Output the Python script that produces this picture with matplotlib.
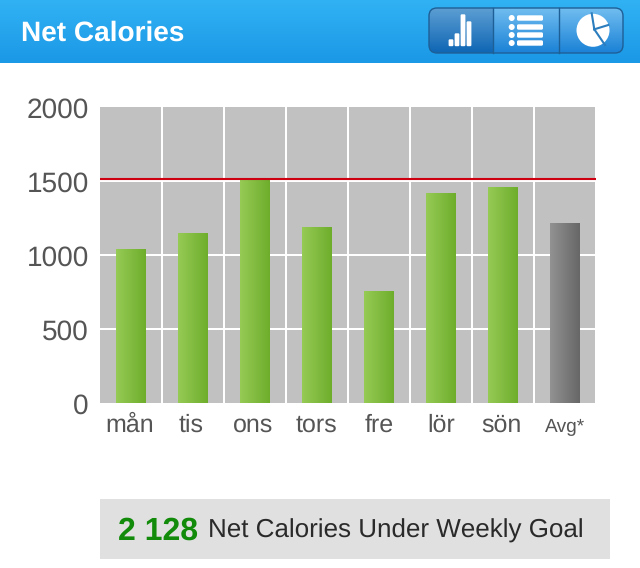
import numpy as np
import matplotlib
matplotlib.use("Agg")
import matplotlib.pyplot as plt
from matplotlib.colors import LinearSegmentedColormap as LSC
from matplotlib.patches import FancyBboxPatch, Rectangle, Circle
from matplotlib.transforms import ScaledTranslation

days = ["mån", "tis", "ons", "tors", "fre", "lör", "sön", "Avg*"]
calories = [1040, 1145, 1507, 1189, 752, 1415, 1459, 1216]
goal = 1513
y_ticks = [0, 500, 1000, 1500, 2000]
title = "Net Calories"
summary_value = "2 128"
summary_text = "Net Calories Under Weekly Goal"
label_shift_px = [-1, -2, -2, -1, 0, 0, -2, 0]

plt.rcParams["font.family"] = ["Liberation Sans", "DejaVu Sans"]
plt.rcParams["text.hinting"] = "none"
plt.rcParams["text.hinting_factor"] = 1
W, H = 640, 568
fig = plt.figure(figsize=(W / 100, H / 100), dpi=100, facecolor="white")


def cmap(a, b):
    return LSC.from_list("g", [a, b])


# ---- chart ----
ax = fig.add_axes([100 / W, 1 - 403 / H, 495 / W, 296 / H])
ax.set_facecolor("#C1C1C1")
xs = np.arange(len(days))
colors = ["#85BD43"] * 7 + ["#7C7C7C"]
bars = ax.bar(xs, calories, width=30 / 62, color=colors, zorder=3)
grad = np.linspace(0, 1, 64).reshape(1, -1)
for i, b in enumerate(bars):
    cm = cmap("#96CB55", "#6EAD2C") if i < 7 else cmap("#929292", "#676767")
    ax.imshow(grad, cmap=cm, aspect="auto", zorder=3.5, interpolation="bilinear",
              extent=[b.get_x(), b.get_x() + b.get_width(), 0, b.get_height()])
ax.set_xlim(-0.5, 7.484)
ax.set_ylim(0, 2000)
ax.set_yticks(y_ticks)
ax.set_xticks(xs, days)
ax.tick_params(length=0, labelcolor="#555555")
ax.tick_params(axis="y", labelsize=20, pad=8)
ax.tick_params(axis="x", labelsize=18, pad=8)
ax.get_xticklabels()[-1].set_fontsize(14)
for i, lab in enumerate(ax.get_xticklabels()):
    dy = -4 if i == 7 else 0
    lab.set_transform(lab.get_transform() + ScaledTranslation(label_shift_px[i] / 100, dy / 100, fig.dpi_scale_trans))
for lab in ax.get_yticklabels():
    lab.set_transform(lab.get_transform() + ScaledTranslation(0, -1 / 100, fig.dpi_scale_trans))
for s in ax.spines.values():
    s.set_visible(False)
ax.grid(False)
for v in y_ticks[1:4]:
    ax.axhline(v, color="white", lw=1.44, zorder=1)
for x in xs[:-1] + 0.5:
    ax.axvline(x, color="white", lw=1.44, zorder=1)
ax.plot([-0.5, 7.5], [goal, goal], color="#CC0011", lw=1.5, zorder=5, clip_on=False,
        solid_capstyle="butt")

# ---- overlay in pixel coordinates ----
ov = fig.add_axes([0, 0, 1, 1], zorder=-1)
ov.set_axis_off()
vert = np.linspace(0, 1, 64).reshape(-1, 1)
ov.imshow(vert, cmap=cmap("#31B2F4", "#1B98E6"), aspect="auto",
          extent=[0, W, 63, 0], interpolation="bilinear")
ov.add_patch(Rectangle((100, 499), 510, 60, color="#E0E0E0", lw=0))
ov.set_xlim(0, W)
ov.set_ylim(H, 0)

top = fig.add_axes([0, 0, 1, 1], zorder=5)
top.set_axis_off()
top.patch.set_alpha(0)
top.text(21, 33, title, color="white", fontsize=20, fontweight="bold", va="center", ha="left")
top.text(118, 531.5, summary_value, color="#128A0A", fontsize=23, fontweight="bold",
         va="center", ha="left")
top.text(208, 531, summary_text, color="#2A2A2A", fontsize=18.5, va="center", ha="left")

# toolbar segmented control
clip = FancyBboxPatch((429, 8), 194, 45, boxstyle="round,pad=0,rounding_size=8",
                      fc="none", ec="none", transform=top.transData)
top.add_patch(clip)
for x0, x1, a, b in [(429, 493, "#5C9ED3", "#0F66B4"),
                     (493, 559, "#70BDF0", "#1B82D6"),
                     (559, 623, "#70BDF0", "#1B82D6")]:
    im = top.imshow(vert, cmap=cmap(a, b), aspect="auto", extent=[x0, x1, 53, 8],
                    interpolation="bilinear")
    im.set_clip_path(clip)
top.add_patch(FancyBboxPatch((429, 8), 194, 45, boxstyle="round,pad=0,rounding_size=8",
                             fc="none", ec="#1E5F96", lw=1.0))
for x in (493, 559):
    top.plot([x, x], [8, 53], color="#1E5F96", lw=1.0)

# icon: bars
for x, t in [(451, 39), (457, 33), (463, 14), (469, 21)]:
    top.add_patch(FancyBboxPatch((x - 1.2, t + 1.5), 2.4, 46.5 - t - 3,
                                 boxstyle="round,pad=1.2,rounding_size=1.2", fc="white", ec="none"))
# icon: list
for y in (18, 27, 35, 43):
    top.add_patch(Circle((511.7, y), 3, fc="white", ec="none"))
    top.add_patch(FancyBboxPatch((518, y - 1.7), 24, 3.4,
                                 boxstyle="round,pad=1,rounding_size=1.5", fc="white", ec="none"))
# icon: pie
top.add_patch(Circle((593, 30.3), 16.5, fc="white", ec="none"))
for ex, ey in [(591.7, 13.3), (608.3, 25), (605, 45)]:
    top.plot([594.3, ex], [29.3, ey], color="#2B7DBD", lw=1.5)

top.set_xlim(0, W)
top.set_ylim(H, 0)

fig.savefig("out.png", dpi=100, facecolor="white")
